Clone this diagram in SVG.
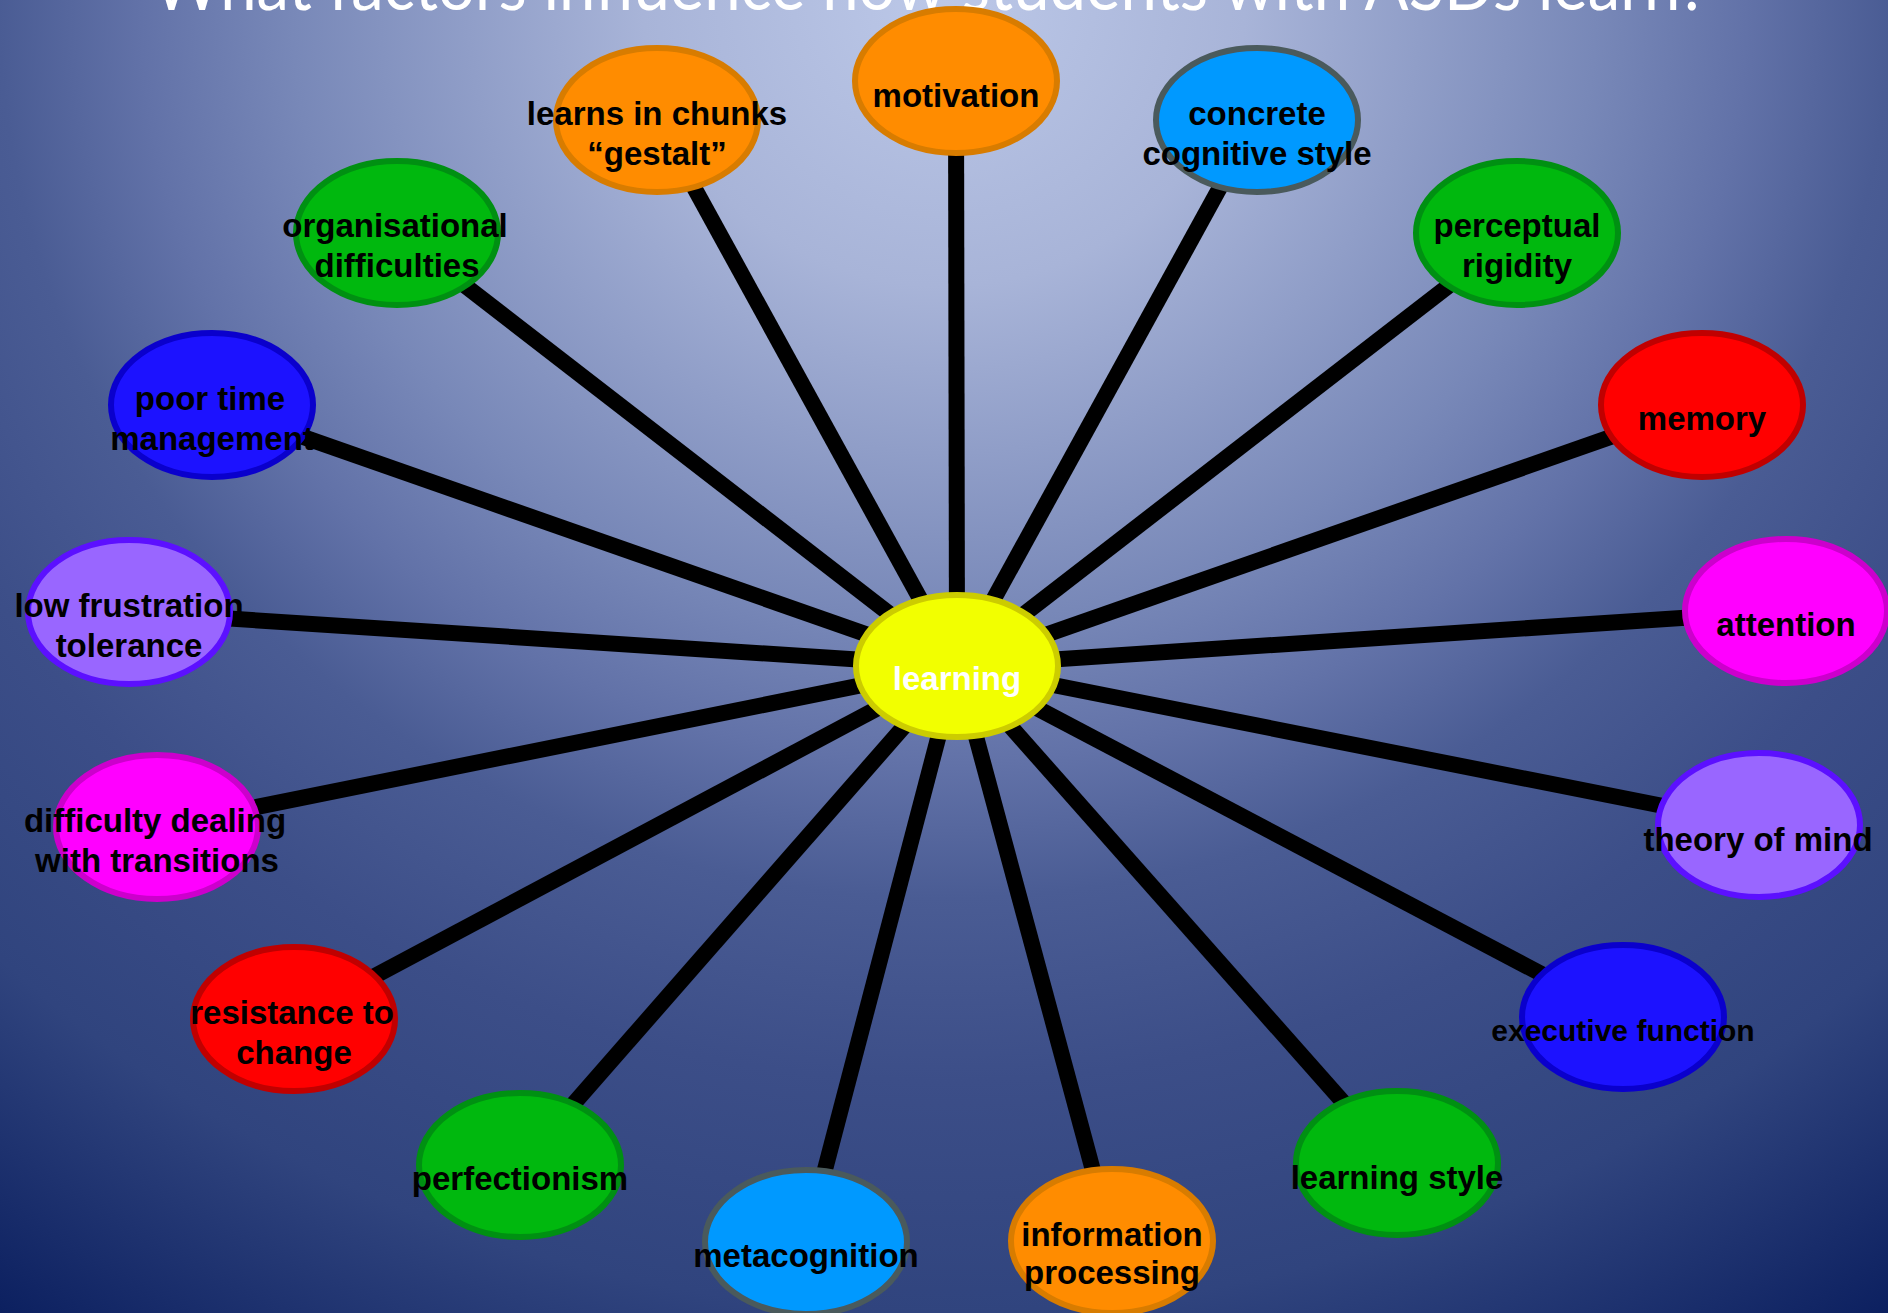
<svg xmlns="http://www.w3.org/2000/svg" width="1888" height="1313" viewBox="0 0 1888 1313">
<defs>
<radialGradient id="bg" gradientUnits="userSpaceOnUse" cx="944" cy="0" r="1673" gradientTransform="translate(944,0) scale(1,0.95) translate(-944,0)">
<stop offset="0" stop-color="#bcc8e8"/>
<stop offset="0.18" stop-color="#a8b4d8"/>
<stop offset="0.39" stop-color="#7888b8"/>
<stop offset="0.48" stop-color="#6272a8"/>
<stop offset="0.565" stop-color="#4a5c94"/>
<stop offset="0.68" stop-color="#3c4e88"/>
<stop offset="0.826" stop-color="#30447e"/>
<stop offset="1" stop-color="#0c2060"/>
</radialGradient>
<style>
.n{stroke-width:6}
.t{font-family:"Liberation Sans",Arial,sans-serif;font-weight:bold;font-size:33px;fill:#000;text-anchor:middle}
.orange{fill:#ff8c00;stroke:#d87c00}
.sky{fill:#0099ff;stroke:#4a5a5c}
.green{fill:#00b80e;stroke:#009012}
.navy{fill:#1c12ff;stroke:#0a00cc}
.red{fill:#ff0000;stroke:#c00000}
.lilac{fill:#9966ff;stroke:#5c10ff}
.magenta{fill:#ff00ff;stroke:#cc00cc}
.yellow{fill:#f2ff00;stroke:#cccc00}
#connectors line{stroke:#000;stroke-width:16}
</style>
</defs>
<rect x="0" y="0" width="1888" height="1313" fill="url(#bg)"/>
<text x="153" y="10" font-family="Lato,'Open Sans',sans-serif" font-size="70" fill="#fff" textLength="1555" lengthAdjust="spacingAndGlyphs">What factors influence how students with ASDs learn?</text>
<g id="connectors">
<line x1="957" y1="666" x2="956" y2="81"/>
<line x1="957" y1="666" x2="657" y2="120"/>
<line x1="957" y1="666" x2="1257" y2="120"/>
<line x1="957" y1="666" x2="397" y2="233"/>
<line x1="957" y1="666" x2="1517" y2="233"/>
<line x1="957" y1="666" x2="212" y2="405"/>
<line x1="957" y1="666" x2="1702" y2="405"/>
<line x1="957" y1="666" x2="129" y2="612"/>
<line x1="957" y1="666" x2="1786" y2="611"/>
<line x1="957" y1="666" x2="157" y2="827"/>
<line x1="957" y1="666" x2="1759" y2="825"/>
<line x1="957" y1="666" x2="294" y2="1019"/>
<line x1="957" y1="666" x2="1623" y2="1017"/>
<line x1="957" y1="666" x2="520" y2="1165"/>
<line x1="957" y1="666" x2="1397" y2="1163"/>
<line x1="957" y1="666" x2="806" y2="1242"/>
<line x1="957" y1="666" x2="1112" y2="1241"/>
</g>
<g id="motivation"><ellipse class="n orange" cx="956" cy="81" rx="101" ry="72"/><text class="t" x="956" y="107">motivation</text></g>
<g id="learns-in-chunks"><ellipse class="n orange" cx="657" cy="120" rx="101" ry="72"/><text class="t" x="657" y="125">learns in chunks</text><text class="t" x="657" y="165">“gestalt”</text></g>
<g id="concrete-cognitive-style"><ellipse class="n sky" cx="1257" cy="120" rx="101" ry="72"/><text class="t" x="1257" y="125">concrete</text><text class="t" x="1257" y="165">cognitive style</text></g>
<g id="organisational-difficulties"><ellipse class="n green" cx="397" cy="233" rx="101" ry="72"/><text class="t" x="395" y="237">organisational</text><text class="t" x="397" y="277">difficulties</text></g>
<g id="perceptual-rigidity"><ellipse class="n green" cx="1517" cy="233" rx="101" ry="72"/><text class="t" x="1517" y="237">perceptual</text><text class="t" x="1517" y="277">rigidity</text></g>
<g id="poor-time-management"><ellipse class="n navy" cx="212" cy="405" rx="101" ry="72"/><text class="t" x="210" y="410">poor time</text><text class="t" x="212" y="450">management</text></g>
<g id="memory"><ellipse class="n red" cx="1702" cy="405" rx="101" ry="72"/><text class="t" x="1702" y="430">memory</text></g>
<g id="low-frustration-tolerance"><ellipse class="n lilac" cx="129" cy="612" rx="101" ry="72"/><text class="t" x="129" y="617">low frustration</text><text class="t" x="129" y="657">tolerance</text></g>
<g id="attention"><ellipse class="n magenta" cx="1786" cy="611" rx="101" ry="72"/><text class="t" x="1786" y="636">attention</text></g>
<g id="difficulty-dealing-with-transitions"><ellipse class="n magenta" cx="157" cy="827" rx="101" ry="72"/><text class="t" x="155" y="832">difficulty dealing</text><text class="t" x="157" y="872">with transitions</text></g>
<g id="theory-of-mind"><ellipse class="n lilac" cx="1759" cy="825" rx="101" ry="72"/><text class="t" x="1758" y="851">theory of mind</text></g>
<g id="resistance-to-change"><ellipse class="n red" cx="294" cy="1019" rx="101" ry="72"/><text class="t" x="292" y="1024">resistance to</text><text class="t" x="294" y="1064">change</text></g>
<g id="executive-function"><ellipse class="n navy" cx="1623" cy="1017" rx="101" ry="72"/><text class="t" x="1623" y="1041" style="font-size:30px">executive function</text></g>
<g id="perfectionism"><ellipse class="n green" cx="520" cy="1165" rx="101" ry="72"/><text class="t" x="520" y="1190">perfectionism</text></g>
<g id="learning-style"><ellipse class="n green" cx="1397" cy="1163" rx="101" ry="72"/><text class="t" x="1397" y="1189">learning style</text></g>
<g id="metacognition"><ellipse class="n sky" cx="806" cy="1242" rx="101" ry="72"/><text class="t" x="806" y="1267">metacognition</text></g>
<g id="information-processing"><ellipse class="n orange" cx="1112" cy="1241" rx="101" ry="72"/><text class="t" x="1112" y="1246">information</text><text class="t" x="1112" y="1284">processing</text></g>
<g id="learning"><ellipse class="n yellow" cx="957" cy="666" rx="101" ry="71"/><text class="t" x="957" y="690" style="fill:#fff">learning</text></g>
</svg>
